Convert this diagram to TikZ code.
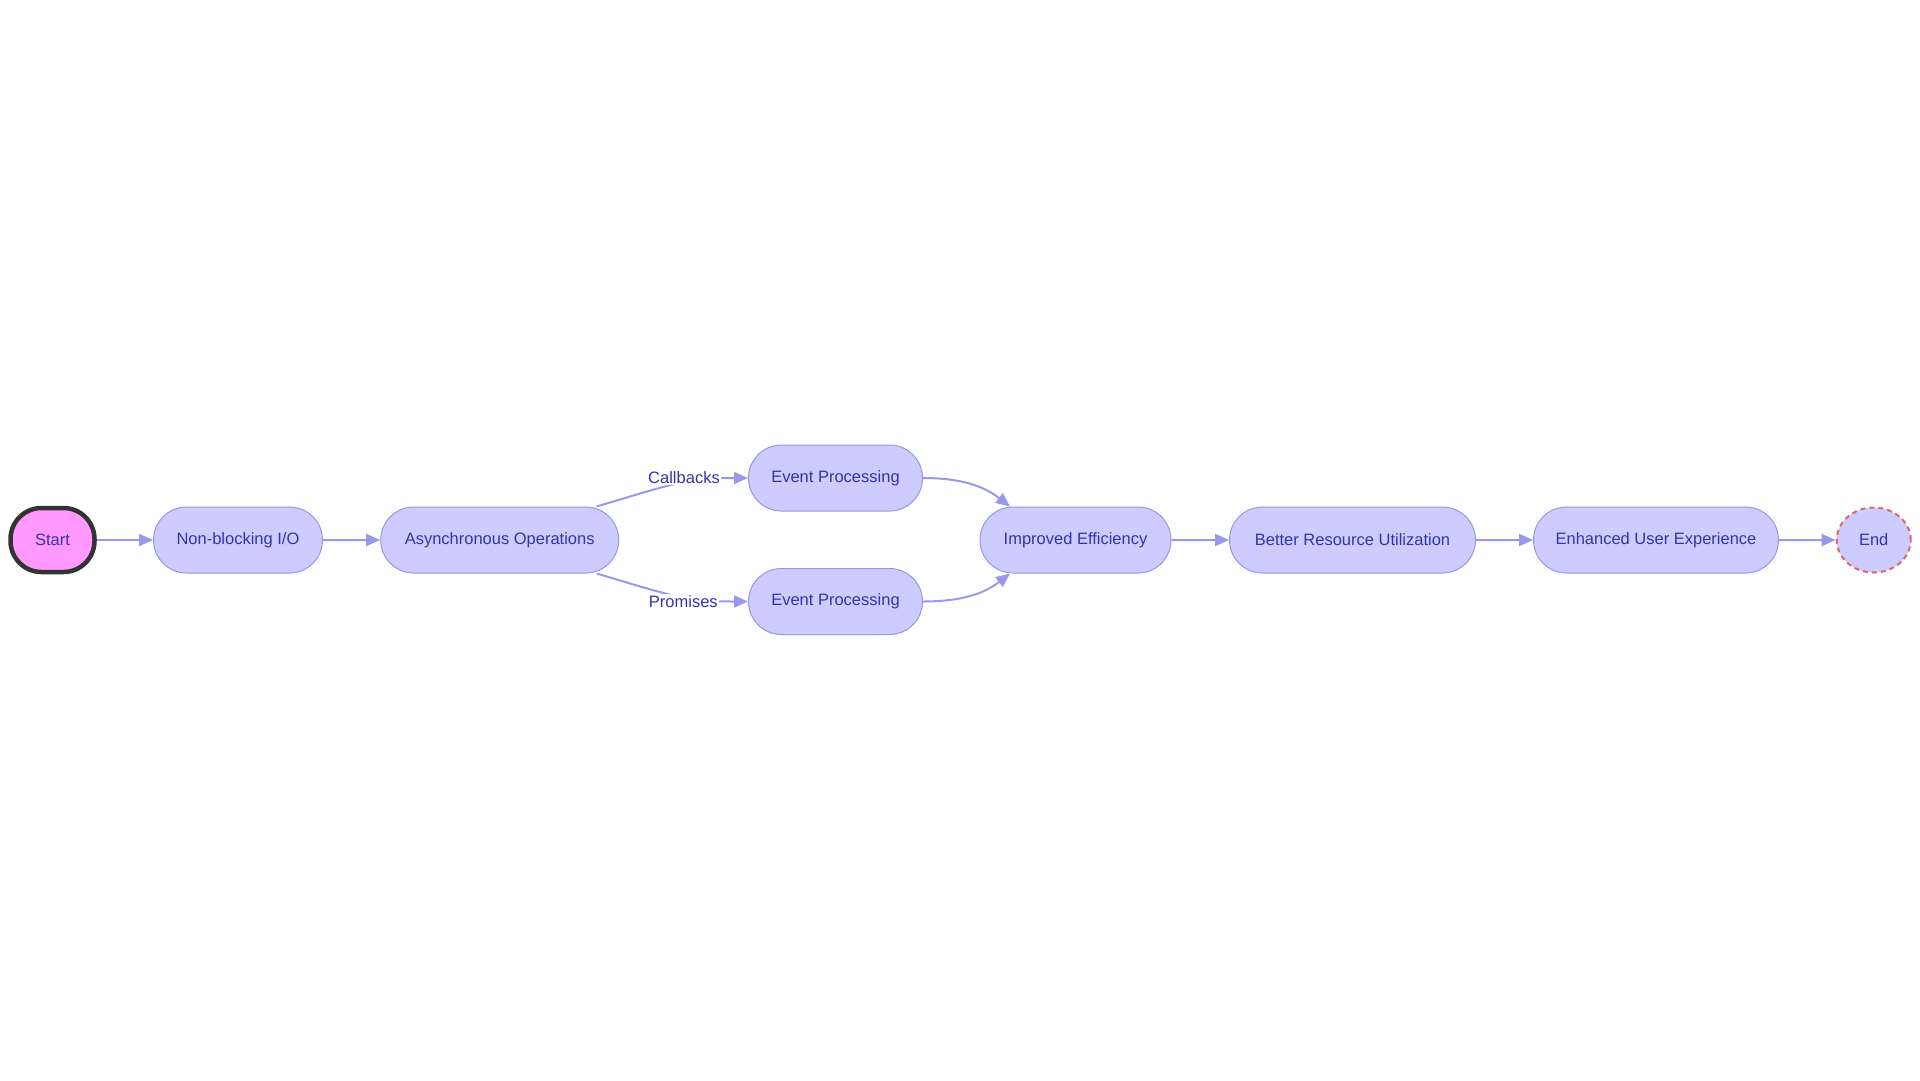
\documentclass[tikz,border=0pt]{standalone}
\usepackage{fontspec}
\setmainfont{Liberation Sans}
\usetikzlibrary{arrows.meta,shapes.misc,shapes.geometric}
\definecolor{nodefill}{RGB}{204,204,255}
\definecolor{nodeline}{RGB}{150,150,230}
\definecolor{nodetext}{RGB}{52,52,170}
\definecolor{edgeline}{RGB}{153,153,236}
\definecolor{startfill}{RGB}{255,153,255}
\definecolor{startline}{RGB}{51,51,51}
\definecolor{endline}{RGB}{224,102,102}
\begin{document}
\begin{tikzpicture}[x=1pt,y=-1pt,
	>={Triangle[length=14pt,width=12pt]},
	every path/.style={draw=edgeline,line width=2pt},
	lbl/.style={fill=white,inner sep=1pt,text=nodetext,font=\fontsize{16.5}{20}\selectfont}]
			\useasboundingbox[draw=none] (0,0) rectangle (1920,1080);
			
			\begin{scope}[every node/.style={rounded rectangle,draw=nodeline,fill=nodefill,line width=1pt,minimum height=66pt,inner sep=0pt,text=nodetext,font=\fontsize{16.5}{20}\selectfont}]
			\node[rectangle,rounded corners=31pt,fill=startfill,draw=startline,line width=4.5pt,minimum width=84pt,minimum height=64pt] (start) at (52.5, 540) {Start};
			
			\node[minimum width=169pt] (nbio)  at (238,   540) {Non-blocking I/O};
			\node[minimum width=238pt] (async) at (499.7, 540) {Asynchronous Operations};
			
			\node[minimum width=174pt] (ev-1)  at (835.5, 478) {Event Processing};
			\node[minimum width=174pt] (ev-2)  at (835.5, 601.5) {Event Processing};
			
			\node[minimum width=191pt] (eff)   at (1075.5, 540) {Improved Efficiency};
			\node[minimum width=246pt] (res)   at (1352.5, 540) {Better Resource Utilization};
			\node[minimum width=245pt] (ux)    at (1656,   540) {Enhanced User Experience};
			
			\node[ellipse,draw=endline,line width=2pt,dash pattern=on 5pt off 4pt,minimum width=74pt,minimum height=65pt] (end) at (1873.7, 540) {End};
			\end{scope}
			
			\path [->] (start) edge (nbio);
			\path [->] (nbio) edge (async);
			
			\draw [->] ([xshift=97pt]async.north) .. controls +(80,-24) and +(-60,0) .. (ev-1.west);
			\draw [->] ([xshift=97pt]async.south) .. controls +(80,24) and +(-60,0) .. (ev-2.west);
			\node[lbl] (cb) at (684, 478) {Callbacks};
			\node[lbl] (pr) at (683.3, 601.5) {Promises};
			
			\draw [->] (ev-1.east) .. controls +(45,0) and +(-22,-17) .. ([xshift=-65.5pt]eff.north);
			\draw [->] (ev-2.east) .. controls +(45,0) and +(-22,17) .. ([xshift=-65.5pt]eff.south);
			
			\path [->] (eff) edge (res);
			\path [->] (res) edge (ux);
			\path [->] (ux) edge (end);
			\end{tikzpicture}
\end{document}
